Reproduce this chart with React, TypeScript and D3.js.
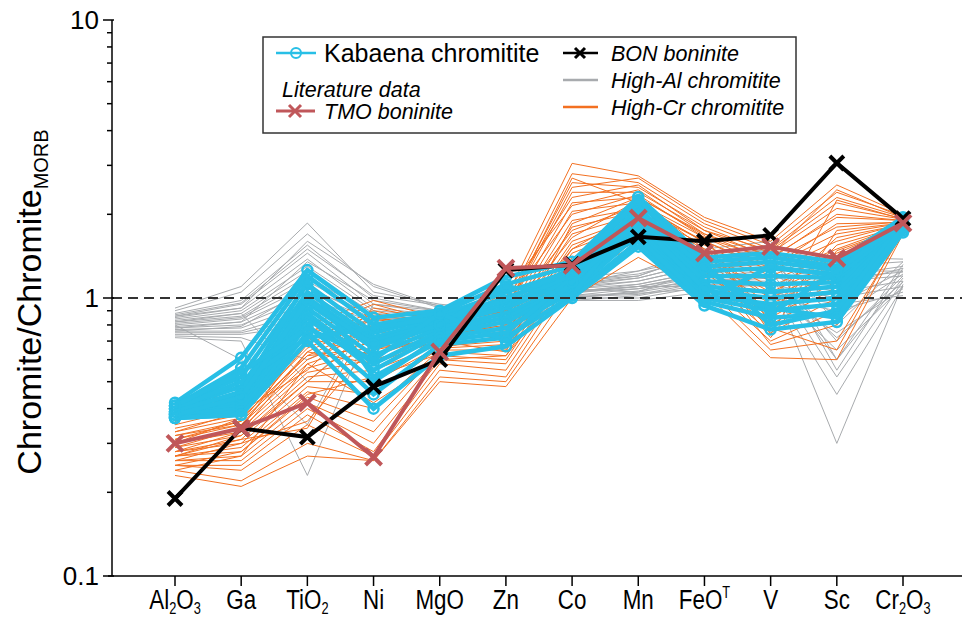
import React from 'react';
import * as d3 from 'd3';

const width = 962;
const height = 621;

// element order on the x axis
const elements = ['Al2O3', 'Ga', 'TiO2', 'Ni', 'MgO', 'Zn', 'Co', 'Mn', 'FeOT', 'V', 'Sc', 'Cr2O3'];

// tick labels, split into [text, kind] pieces ('' normal, 'sub', 'sup')
const tickLabels = [
  [['Al', ''], ['2', 'sub'], ['O', ''], ['3', 'sub']],
  [['Ga', '']],
  [['TiO', ''], ['2', 'sub']],
  [['Ni', '']],
  [['MgO', '']],
  [['Zn', '']],
  [['Co', '']],
  [['Mn', '']],
  [['FeO', ''], ['T', 'sup']],
  [['V', '']],
  [['Sc', '']],
  [['Cr', ''], ['2', 'sub'], ['O', ''], ['3', 'sub']],
];

const yTicks = [0.1, 1, 10];

// High-Al chromitite (literature)
const highAl = [
  [0.92, 1.10, 1.86, 1.05, 0.95, 0.90, 1.15, 1.20, 1.45, 1.55, 1.30, 1.35],
  [0.90, 1.05, 1.70, 1.10, 0.92, 0.88, 1.12, 1.25, 1.40, 1.50, 1.20, 1.30],
  [0.88, 0.98, 1.55, 1.00, 0.90, 0.85, 1.10, 1.18, 1.35, 1.45, 1.10, 1.28],
  [0.86, 0.95, 1.45, 0.95, 0.88, 0.82, 1.08, 1.15, 1.30, 1.40, 0.95, 1.25],
  [0.85, 0.92, 1.38, 0.92, 0.87, 0.80, 1.05, 1.12, 1.25, 1.35, 0.85, 1.22],
  [0.84, 0.90, 1.30, 0.90, 0.86, 0.78, 1.04, 1.10, 1.22, 1.30, 0.70, 1.20],
  [0.83, 0.88, 1.25, 0.88, 0.85, 0.80, 1.02, 1.08, 1.20, 1.25, 0.60, 1.18],
  [0.82, 0.86, 1.20, 0.86, 0.84, 0.76, 1.00, 1.06, 1.18, 1.20, 0.52, 1.15],
  [0.81, 0.85, 1.15, 0.85, 0.83, 0.75, 1.00, 1.05, 1.15, 1.15, 0.30, 1.12],
  [0.80, 0.84, 1.10, 0.84, 0.82, 0.74, 0.98, 1.02, 1.12, 1.10, 0.65, 1.10],
  [0.79, 0.82, 1.05, 0.83, 0.81, 0.73, 1.00, 1.00, 1.10, 1.05, 0.75, 1.08],
  [0.78, 0.80, 1.00, 0.82, 0.80, 0.72, 0.98, 0.98, 1.05, 1.00, 0.90, 1.05],
  [0.77, 0.78, 0.95, 0.80, 0.80, 0.74, 1.02, 1.04, 1.08, 1.12, 1.00, 1.10],
  [0.76, 0.76, 0.90, 0.78, 0.82, 0.76, 1.05, 1.08, 1.15, 1.20, 1.05, 1.15],
  [0.75, 0.75, 0.85, 0.76, 0.84, 0.78, 1.08, 1.12, 1.25, 1.30, 1.15, 1.20],
  [0.74, 0.74, 0.80, 0.75, 0.85, 0.80, 1.10, 1.15, 1.30, 1.40, 1.25, 1.25],
  [0.73, 0.72, 0.60, 0.78, 0.86, 0.82, 1.12, 1.18, 1.35, 1.45, 0.55, 1.28],
  [0.72, 0.70, 0.23, 0.85, 0.88, 0.85, 1.15, 1.22, 1.40, 1.50, 0.60, 1.32],
  [0.80, 0.60, 0.35, 0.95, 0.90, 0.88, 1.18, 1.25, 1.50, 1.60, 0.80, 1.35],
  [0.86, 0.92, 1.60, 1.12, 0.93, 0.86, 1.12, 1.20, 1.45, 1.55, 1.40, 1.38],
  [0.82, 0.88, 0.50, 0.80, 0.85, 0.80, 1.05, 1.10, 1.20, 1.10, 0.45, 1.10],
  [0.78, 0.82, 1.35, 0.98, 0.90, 0.84, 1.06, 1.10, 1.10, 1.05, 0.95, 1.02],
  [0.87, 0.96, 1.50, 1.02, 0.94, 0.87, 1.08, 1.05, 1.28, 1.32, 1.18, 1.24],
  [0.76, 0.79, 1.08, 0.87, 0.83, 0.77, 1.01, 1.03, 1.14, 1.18, 0.72, 1.14],
];

// High-Cr chromitite (literature)
const highCr = [
  [0.38, 0.45, 0.80, 0.98, 0.85, 1.00, 3.05, 2.75, 1.95, 1.60, 2.55, 2.00],
  [0.36, 0.42, 0.75, 0.95, 0.82, 0.95, 2.80, 2.60, 1.85, 1.50, 2.30, 1.95],
  [0.35, 0.40, 0.70, 0.90, 0.80, 0.92, 2.60, 2.50, 1.80, 1.45, 2.10, 1.92],
  [0.34, 0.38, 0.66, 0.85, 0.78, 0.88, 2.40, 2.40, 1.75, 1.40, 1.95, 1.90],
  [0.33, 0.37, 0.62, 0.80, 0.76, 0.85, 2.20, 2.30, 1.70, 1.35, 1.80, 1.88],
  [0.32, 0.36, 0.60, 0.75, 0.75, 0.82, 2.05, 2.20, 1.65, 1.30, 1.70, 1.86],
  [0.31, 0.35, 0.58, 0.70, 0.73, 0.80, 1.90, 2.10, 1.60, 1.25, 1.60, 1.85],
  [0.30, 0.34, 0.56, 0.65, 0.72, 0.78, 1.80, 2.05, 1.55, 1.20, 1.50, 1.83],
  [0.30, 0.33, 0.54, 0.60, 0.70, 0.75, 1.70, 2.00, 1.50, 1.15, 1.45, 1.82],
  [0.29, 0.32, 0.52, 0.55, 0.68, 0.72, 1.60, 1.95, 1.45, 1.10, 1.40, 1.80],
  [0.28, 0.31, 0.50, 0.50, 0.67, 0.70, 1.55, 1.90, 1.40, 1.05, 1.35, 1.80],
  [0.28, 0.30, 0.48, 0.45, 0.66, 0.68, 1.50, 1.85, 1.38, 1.00, 1.30, 1.78],
  [0.27, 0.29, 0.46, 0.40, 0.65, 0.65, 1.45, 1.80, 1.35, 0.95, 1.25, 1.78],
  [0.27, 0.28, 0.44, 0.36, 0.64, 0.62, 1.40, 1.75, 1.30, 0.90, 1.20, 1.76],
  [0.26, 0.27, 0.42, 0.33, 0.62, 0.60, 1.35, 1.70, 1.28, 0.85, 1.15, 1.75],
  [0.26, 0.26, 0.40, 0.30, 0.60, 0.58, 1.30, 1.65, 1.25, 0.80, 1.10, 1.74],
  [0.25, 0.25, 0.38, 0.28, 0.58, 0.55, 1.25, 1.60, 1.20, 0.75, 1.00, 1.73],
  [0.25, 0.24, 0.35, 0.27, 0.55, 0.52, 1.20, 1.55, 1.15, 0.70, 0.90, 1.72],
  [0.24, 0.22, 0.30, 0.26, 0.52, 0.50, 1.10, 1.50, 1.10, 0.65, 0.70, 1.71],
  [0.23, 0.21, 0.27, 0.26, 0.50, 0.48, 1.00, 1.40, 1.05, 0.61, 0.60, 1.70],
  [0.36, 0.50, 0.78, 0.70, 0.80, 0.90, 2.50, 2.70, 1.90, 1.55, 2.40, 1.98],
  [0.33, 0.39, 0.55, 0.92, 0.83, 0.98, 2.30, 2.55, 1.75, 1.48, 2.20, 1.93],
  [0.31, 0.36, 0.68, 0.88, 0.79, 0.95, 2.00, 2.35, 1.65, 1.38, 2.00, 1.90],
  [0.29, 0.34, 0.72, 0.62, 0.74, 0.86, 1.75, 2.15, 1.60, 1.28, 1.85, 1.87],
  [0.28, 0.33, 0.64, 0.58, 0.71, 0.83, 1.65, 2.25, 1.50, 1.00, 1.65, 1.84],
  [0.27, 0.32, 0.50, 0.78, 0.69, 0.76, 1.50, 2.05, 1.45, 0.88, 1.55, 1.82],
  [0.26, 0.30, 0.36, 0.68, 0.66, 0.74, 1.35, 1.95, 1.40, 0.72, 1.48, 1.80],
  [0.25, 0.28, 0.45, 0.52, 0.63, 0.66, 1.28, 1.85, 1.35, 0.68, 0.80, 1.78],
  [0.24, 0.27, 0.58, 0.42, 0.60, 0.62, 1.22, 1.75, 1.25, 0.78, 0.65, 1.76],
  [0.32, 0.35, 0.64, 0.84, 0.77, 1.05, 2.15, 2.45, 1.70, 1.42, 2.45, 1.95],
  [0.30, 0.37, 0.62, 0.66, 0.70, 0.64, 1.85, 2.30, 1.68, 0.74, 1.75, 1.86],
  [0.27, 0.31, 0.34, 0.86, 0.76, 0.90, 2.70, 2.20, 1.58, 0.82, 2.25, 1.92],
];

// Kabaena chromitite samples
const kabaena = [
  [0.42, 0.61, 1.26, 0.85, 0.90, 1.19, 1.35, 2.31, 1.40, 1.45, 1.35, 1.95],
  [0.41, 0.56, 1.20, 0.80, 0.88, 1.12, 1.30, 2.20, 1.35, 1.40, 1.30, 1.92],
  [0.41, 0.52, 1.12, 0.75, 0.86, 1.05, 1.25, 2.10, 1.30, 1.35, 1.26, 1.90],
  [0.40, 0.48, 1.05, 0.72, 0.84, 1.00, 1.22, 2.00, 1.25, 1.28, 1.22, 1.88],
  [0.40, 0.45, 1.00, 0.70, 0.82, 0.95, 1.20, 1.95, 1.20, 1.20, 1.18, 1.86],
  [0.39, 0.43, 0.96, 0.66, 0.80, 0.92, 1.16, 1.90, 1.15, 1.12, 1.14, 1.85],
  [0.39, 0.42, 0.92, 0.62, 0.78, 0.88, 1.12, 1.85, 1.10, 1.05, 1.10, 1.83],
  [0.38, 0.41, 0.88, 0.58, 0.76, 0.85, 1.10, 1.80, 1.06, 1.00, 1.05, 1.82],
  [0.38, 0.40, 0.85, 0.55, 0.74, 0.82, 1.08, 1.75, 1.02, 0.95, 1.00, 1.80],
  [0.37, 0.39, 0.80, 0.50, 0.72, 0.78, 1.05, 1.70, 1.00, 0.90, 0.95, 1.78],
  [0.37, 0.38, 0.75, 0.45, 0.68, 0.72, 1.02, 1.60, 0.97, 0.85, 0.88, 1.75],
  [0.37, 0.38, 0.70, 0.40, 0.62, 0.67, 1.00, 1.53, 0.94, 0.77, 0.82, 1.72],
  [0.40, 0.50, 0.72, 0.78, 0.85, 0.98, 1.28, 2.25, 1.32, 0.80, 0.90, 1.90],
  [0.39, 0.46, 1.15, 0.52, 0.70, 0.75, 1.18, 1.65, 0.98, 1.30, 1.20, 1.84],
  [0.38, 0.44, 0.98, 0.68, 0.80, 1.10, 1.02, 2.05, 1.28, 0.88, 1.25, 1.87],
  [0.41, 0.54, 0.78, 0.60, 0.88, 0.70, 1.14, 1.88, 1.08, 0.92, 0.85, 1.80],
];

const bonBoninite = [0.19, 0.34, 0.316, 0.48, 0.60, 1.26, 1.32, 1.66, 1.60, 1.68, 3.06, 1.93];
const tmoBoninite = [0.30, 0.34, 0.42, 0.268, 0.64, 1.28, 1.31, 1.94, 1.45, 1.53, 1.39, 1.86];

const colors = {
  highAl: '#a8abae',
  highCr: '#f37021',
  kabaena: '#28bfe6',
  bon: '#000000',
  tmo: '#c0575a',
};

const cross = (s: number) => `M${-s},${-s}L${s},${s}M${-s},${s}L${s},${-s}`;

const App = () => {
  const x = d3.scalePoint<string>().domain(elements).range([175, 903]);
  const y = d3.scaleLog().domain([0.1, 10]).range([576, 20]);
  const line = d3.line<number>()
    .x((_, i) => x(elements[i]) as number)
    .y(d => y(d));

  const axisLeft = 112;
  const axisBottom = 576;

  // minor log ticks
  const minor: number[] = [];
  [0.1, 1].forEach(base => {
    for (let k = 2; k <= 9; k++) minor.push(base * k);
  });

  const font = 'Liberation Sans, Arial, sans-serif';
  const squeeze = 0.8; // labels in the original use a narrow face

  return (
    <svg width={width} height={height} style={{ position: 'absolute', left: 0, top: 0, background: '#fff' }}>
      {/* literature envelopes */}
      <g fill="none" strokeWidth={1} strokeLinejoin="miter">
        {highAl.map((d, i) => (
          <path key={'al' + i} d={line(d) as string} stroke={colors.highAl} />
        ))}
        {highCr.map((d, i) => (
          <path key={'cr' + i} d={line(d) as string} stroke={colors.highCr} />
        ))}
      </g>

      {/* Kabaena samples */}
      <g fill="none" stroke={colors.kabaena}>
        {kabaena.map((d, i) => (
          <g key={'kb' + i}>
            <path d={line(d) as string} strokeWidth={4.5} />
            {d.map((v, j) => (
              <circle key={j} cx={x(elements[j])} cy={y(v)} r={5} strokeWidth={2.5} />
            ))}
          </g>
        ))}
      </g>

      {/* MORB reference line */}
      <line x1={axisLeft} x2={width} y1={y(1)} y2={y(1)} stroke="#333" strokeWidth={2} strokeDasharray="10,6" />

      {/* boninites */}
      <g fill="none" strokeWidth={4}>
        <path d={line(bonBoninite) as string} stroke={colors.bon} />
        {bonBoninite.map((v, j) => (
          <path key={'b' + j} d={cross(7)} transform={`translate(${x(elements[j])},${y(v)})`} stroke={colors.bon} />
        ))}
        <path d={line(tmoBoninite) as string} stroke={colors.tmo} />
        {tmoBoninite.map((v, j) => (
          <path key={'t' + j} d={cross(8)} transform={`translate(${x(elements[j])},${y(v)})`} stroke={colors.tmo} />
        ))}
      </g>

      {/* y axis */}
      <g stroke="#000" strokeWidth={1.5}>
        <line x1={axisLeft} x2={axisLeft} y1={y(10)} y2={axisBottom} />
        {yTicks.map(t => (
          <line key={t} x1={axisLeft - 9} x2={axisLeft + 2} y1={y(t)} y2={y(t)} />
        ))}
        {minor.map(t => (
          <line key={t} x1={axisLeft - 5} x2={axisLeft} y1={y(t)} y2={y(t)} />
        ))}
      </g>
      <g fontFamily={font} fontSize={26} textAnchor="end">
        {yTicks.map(t => (
          <text key={t} x={axisLeft - 13} y={y(t) + 9}>{t}</text>
        ))}
      </g>
      <text
        transform={`translate(41,${(y(10) + axisBottom) / 2 + 4}) rotate(-90)`}
        textAnchor="middle"
        fontFamily={font}
        fontSize={34}
      >
        Chromite/Chromite<tspan fontSize={20} dy={7}>MORB</tspan>
      </text>

      {/* x axis */}
      <g stroke="#000" strokeWidth={1.5}>
        <line x1={axisLeft - 4} x2={width} y1={axisBottom} y2={axisBottom} />
        {elements.map(e => (
          <line key={e} x1={x(e)} x2={x(e)} y1={axisBottom} y2={axisBottom + 10} />
        ))}
      </g>
      <g fontFamily={font} fontSize={28} textAnchor="middle" transform={`scale(${squeeze},1)`}>
        {elements.map((e, i) => (
          <text key={e} x={(x(e) as number) / squeeze} y={609}>
            {tickLabels[i].map(([t, kind], k) => {
              const prev = k > 0 ? tickLabels[i][k - 1][1] : '';
              const dy = kind === 'sub' ? 5 : kind === 'sup' ? -11 : prev === 'sub' ? -5 : prev === 'sup' ? 11 : 0;
              return (
                <tspan key={k} fontSize={kind ? 16 : 28} dy={dy}>
                  {t}
                </tspan>
              );
            })}
          </text>
        ))}
      </g>

      {/* legend */}
      <g>
        <rect x={263} y={37} width={533} height={96} fill="#fff" stroke="#333" strokeWidth={1.5} />
        <line x1={276} x2={316} y1={53} y2={53} stroke={colors.kabaena} strokeWidth={2.5} />
        <circle cx={296} cy={53} r={5} fill="none" stroke={colors.kabaena} strokeWidth={2} />
        <text x={324} y={62} fontFamily={font} fontSize={25}>Kabaena chromitite</text>

        <text x={282} y={97} fontFamily={font} fontSize={21.5} fontStyle="italic">Literature data</text>
        <line x1={276} x2={315} y1={111} y2={111} stroke={colors.tmo} strokeWidth={3} />
        <path d={cross(6)} transform="translate(295,111)" stroke={colors.tmo} strokeWidth={3} />
        <text x={324} y={119} fontFamily={font} fontSize={21.5} fontStyle="italic">TMO boninite</text>

        <line x1={563} x2={598} y1={53} y2={53} stroke={colors.bon} strokeWidth={2.5} />
        <path d={cross(5)} transform="translate(580,53)" stroke={colors.bon} strokeWidth={3} />
        <text x={611} y={61} fontFamily={font} fontSize={21.5} fontStyle="italic">BON boninite</text>

        <line x1={563} x2={598} y1={80} y2={80} stroke={colors.highAl} strokeWidth={2.5} />
        <text x={611} y={88} fontFamily={font} fontSize={21.5} fontStyle="italic">High-Al chromitite</text>

        <line x1={563} x2={598} y1={107} y2={107} stroke={colors.highCr} strokeWidth={2.5} />
        <text x={611} y={115} fontFamily={font} fontSize={21.5} fontStyle="italic">High-Cr chromitite</text>
      </g>
    </svg>
  );
};

export default App;
